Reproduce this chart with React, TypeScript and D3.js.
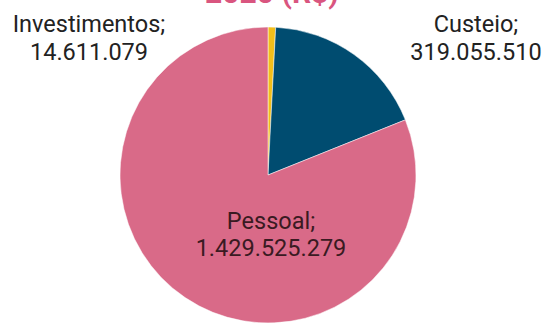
import React from "react";
import * as d3 from "d3";

const categories = ["Investimentos", "Custeio", "Pessoal"];
const values = [14611079, 319055510, 1429525279];
const valueLabels = ["14.611.079", "319.055.510", "1.429.525.279"];
const colors = ["#F2BE1A", "#004C70", "#D96A88"];
const title = "2020 (R$)";

const W = 542;
const H = 324;
const cx = 268;
const cy = 175;
const R = 148;

export default function App() {
  const pie = d3.pie<number>().sort(null).value((d) => d)(values);
  const arc = d3.arc<d3.PieArcDatum<number>>().innerRadius(0).outerRadius(R);
  const labelPos: [number, number, number, string][] = [
    [89, 32, 28, "#222"],
    [476, 32, 28, "#222"],
    [271, 229, 27, "#3a1a22"],
  ];
  return (
    <svg
      width={W}
      height={H}
      style={{ position: "absolute", left: 0, top: 0, background: "#fff" }}
      fontFamily="Roboto, sans-serif"
    >
      <text x={272} y={3} textAnchor="middle" fontSize={30} fontWeight="bold" fill="#D9557F">
        {title}
      </text>
      <g transform={`translate(${cx},${cy})`}>
        {pie.map((p, i) => (
          <path key={categories[i]} d={arc(p) || ""} fill={colors[i]} stroke="#fff" strokeWidth={0.5} />
        ))}
      </g>
      {categories.map((c, i) => (
        <text key={c} x={labelPos[i][0]} y={labelPos[i][1]} textAnchor="middle" fontSize={23.5} fill={labelPos[i][3]}>
          <tspan x={labelPos[i][0]}>{c};</tspan>
          <tspan x={labelPos[i][0]} dy={labelPos[i][2]}>{valueLabels[i]}</tspan>
        </text>
      ))}
    </svg>
  );
}
